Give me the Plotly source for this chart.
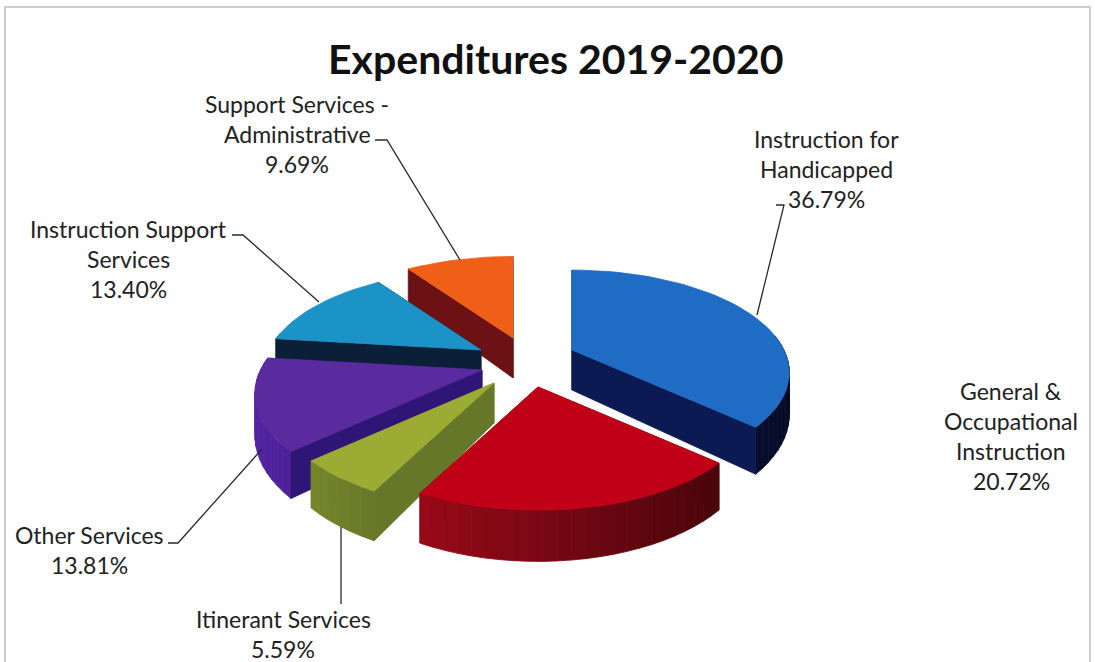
import math
import plotly.graph_objects as go

# ---- data ----
categories = ["Instruction for Handicapped", "General & Occupational Instruction", "Itinerant Services",
              "Other Services", "Instruction Support Services", "Support Services - Administrative"]
values = [36.79, 20.72, 5.59, 13.81, 13.40, 9.69]
label_lines = [["Instruction for", "Handicapped"], ["General &", "Occupational", "Instruction"],
               ["Itinerant Services"], ["Other Services"], ["Instruction Support", "Services"],
               ["Support Services -", "Administrative"]]

# ---- styling / layout ----
W, H = 1095, 662
top_colors = ["#1f6cc4", "#bf0016", "#9bab33", "#5a2b9e", "#1b93c6", "#ef5f18"]
wall_colors = [(22, 36, 120), (185, 12, 30), (128, 146, 48), (84, 36, 165), (12, 34, 62), (120, 18, 22)]
face_colors = ["#0b1a52", "#6e0a14", "#66772a", "#2f1676", "#0b2038", "#6c1215"]
# explode offset of each slice's tip, from the pie's centre
PIE_CENTER = (500, 360)
pull = [(72, -10), (38, 27), (-6, 23), (-18, 10), (-19, -10), (13, -22)]
slice_scale = [1.0, 0.985, 1.0, 1.045, 1.0, 1.02]
RX, RY, PERSP, DEPTH = 212, 97.5, 0.22, 40
# painter's order, back to front
draw_order = [5, 4, 0, 3, 2, 1]
label_pos = [(826, 139), (1011, 391), (283, 619), (89, 535), (128, 229), (297, 104)]
LINE_GAP = 30
leaders = [[(776, 205), (784, 205), (757, 315)],
           [(341, 527), (341, 604)],
           [(168, 543), (178, 543), (262, 449)],
           [(232, 235), (243, 235), (319, 302)],
           [(375, 140), (387, 140), (460, 260)]]
FONT = "Lato"


def rim(tip, theta, s=1.0):
    c = -math.cos(theta)
    f = 1 / (1 - PERSP * c)
    return tip[0] + s * RX * f * math.sin(theta), tip[1] + s * RY * f * c, f


def depth_at(theta):
    return DEPTH / (1 - PERSP * -math.cos(theta))


def poly(fig, pts, color, name):
    xs = [p[0] for p in pts] + [pts[0][0]]
    ys = [p[1] for p in pts] + [pts[0][1]]
    fig.add_trace(go.Scatter(x=xs, y=ys, mode="lines", fill="toself", fillcolor=color,
                             line=dict(color=color, width=0.8), hoverinfo="text", text=name,
                             showlegend=False))


fig = go.Figure()
starts = []
acc = 0.0
for v in values:
    starts.append(acc)
    acc += v
total = sum(values)

for i in draw_order:
    name = f"{categories[i]}: {values[i]:.2f}%"
    s = slice_scale[i]
    t1 = starts[i] / total * 2 * math.pi
    t2 = (starts[i] + values[i]) / total * 2 * math.pi
    tip = (PIE_CENTER[0] + pull[i][0], PIE_CENTER[1] + pull[i][1])
    n = max(6, int((t2 - t1) / math.radians(3)))
    thetas = [t1 + (t2 - t1) * k / n for k in range(n + 1)]
    tip_low = (tip[0], tip[1] + DEPTH)

    def radial(th):
        x, y, f = rim(tip, th, s)
        d = depth_at(th)
        return [tip, (x, y), (x, y + d), tip_low]

    # faces: the side at t1 looks towards t1-90deg, the side at t2 towards t2+90deg
    faces = [(-math.cos(t1 - math.pi / 2), t1), (-math.cos(t2 + math.pi / 2), t2)]
    for vis, th in faces:
        if vis <= 0:
            poly(fig, radial(th), face_colors[i], name)
    # outer wall in narrow strips, shaded by direction
    for a, b in zip(thetas[:-1], thetas[1:]):
        mid = (a + b) / 2
        if -math.cos(mid) < -0.15:
            continue
        shade = max(0.32, min(1.0, 0.66 - 0.36 * math.sin(mid)))
        col = "rgb(%d,%d,%d)" % tuple(int(ch * shade) for ch in wall_colors[i])
        xa, ya, _ = rim(tip, a, s)
        xb, yb, _ = rim(tip, b, s)
        poly(fig, [(xa, ya), (xb, yb), (xb, yb + depth_at(b)), (xa, ya + depth_at(a))], col, name)
    for vis, th in faces:
        if vis > 0:
            poly(fig, radial(th), face_colors[i], name)
    # top face
    poly(fig, [tip] + [rim(tip, th, s)[:2] for th in thetas], top_colors[i], name)

annotations = [dict(text="<b>Expenditures 2019-2020</b>", x=555, y=58, xref="x", yref="y", showarrow=False,
                    xanchor="center", yanchor="middle", font=dict(family=FONT, size=41, color="#111111"))]
for i, lines in enumerate(label_lines):
    x, y = label_pos[i]
    rows = list(lines) + [f"{values[i]:.2f}%"]
    for j, row in enumerate(rows):
        annotations.append(dict(text=row, x=x, y=y + j * LINE_GAP, xref="x", yref="y", showarrow=False,
                                xanchor="center", yanchor="middle",
                                font=dict(family=FONT, size=23, color="#222222")))

shapes = [dict(type="rect", xref="x", yref="y", x0=5, y0=7, x1=1090, y1=700,
               line=dict(color="#bdbdbd", width=1.5), layer="below")]
for pts in leaders:
    path = "M " + " L ".join(f"{x},{y}" for x, y in pts)
    shapes.append(dict(type="path", path=path, xref="x", yref="y", line=dict(color="#2a2a2a", width=1.3)))

fig.update_layout(
    width=W, height=H, margin=dict(l=0, r=0, t=0, b=0),
    paper_bgcolor="white", plot_bgcolor="white",
    xaxis=dict(range=[0, W], visible=False, fixedrange=True),
    yaxis=dict(range=[H, 0], visible=False, fixedrange=True),
    annotations=annotations, shapes=shapes, showlegend=False,
)
fig.write_html("out.html", config={"displayModeBar": False},
               post_script="document.body.style.margin='0';document.body.style.overflow='hidden';")
